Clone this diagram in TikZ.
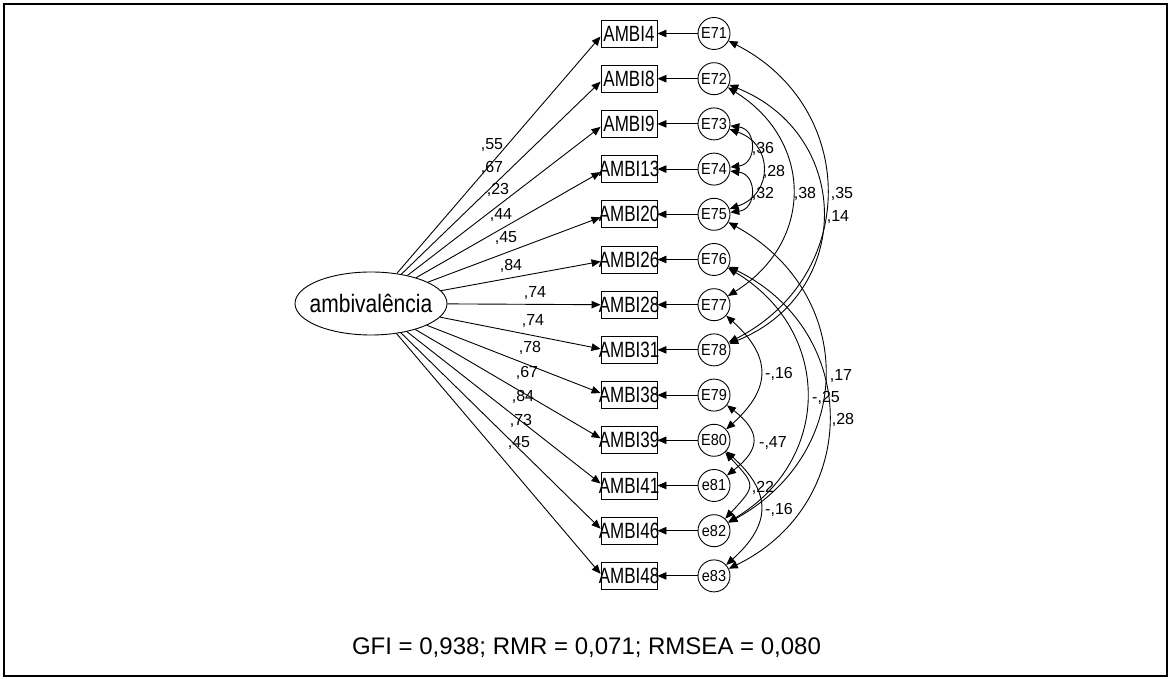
\documentclass[tikz,border=0pt]{standalone}
\usepackage{fontspec}
\setmainfont{Liberation Sans}
\usetikzlibrary{arrows.meta,shapes.geometric}
\newcommand\zb[1]{\makebox[0pt]{#1}}
\newcommand\tb[2]{\makebox[0pt]{\scalebox{1}[#1]{#2}}}
\begin{document}
\begin{tikzpicture}[x=1pt,y=1pt,
  line width=0.9pt,
  obs/.style={draw, rectangle, minimum width=56pt, minimum height=27pt, inner sep=0pt, font=\fontsize{17}{17}\selectfont},
  err/.style={draw, circle, minimum size=32pt, inner sep=0pt, font=\fontsize{14.5}{14.5}\selectfont},
  lat/.style={draw, ellipse, minimum width=152pt, minimum height=63pt, inner sep=0pt, font=\fontsize{21}{21}\selectfont},
  coef/.style={inner sep=0pt, font=\fontsize{16}{16}\selectfont},
  regarrow/.style={-{Triangle[length=9pt,width=7.5pt]}},
  cov/.style={{Triangle[length=9pt,width=7.5pt]}-{Triangle[length=9pt,width=7.5pt]}},
]
\fill[white] (0,0) rectangle (1170,679);
\useasboundingbox (0,0) rectangle (1170,679);
\draw[line width=2pt] (4,3) rectangle (1167,675);

% latent
\node[lat] (amb) at (371,375.5) {\tb{1.2}{ambivalência}};

% observed
\node[obs] (A4)  at (629,645.5) {\tb{1.3}{AMBI4}};
\node[obs] (A8)  at (629,600.3) {\tb{1.3}{AMBI8}};
\node[obs] (A9)  at (629,555.1) {\tb{1.3}{AMBI9}};
\node[obs] (A13) at (629,509.9) {\tb{1.3}{AMBI13}};
\node[obs] (A20) at (629,464.7) {\tb{1.3}{AMBI20}};
\node[obs] (A26) at (629,419.5) {\tb{1.3}{AMBI26}};
\node[obs] (A28) at (629,374.3) {\tb{1.3}{AMBI28}};
\node[obs] (A31) at (629,329.1) {\tb{1.3}{AMBI31}};
\node[obs] (A38) at (629,283.9) {\tb{1.3}{AMBI38}};
\node[obs] (A39) at (629,238.7) {\tb{1.3}{AMBI39}};
\node[obs] (A41) at (629,193.5) {\tb{1.3}{AMBI41}};
\node[obs] (A46) at (629,148.3) {\tb{1.3}{AMBI46}};
\node[obs] (A48) at (629,103.1) {\tb{1.3}{AMBI48}};

% errors
\node[err] (E71) at (714,645.5) {\tb{1.1}{E71}};
\node[err] (E72) at (714,600.3) {\tb{1.1}{E72}};
\node[err] (E73) at (714,555.1) {\tb{1.1}{E73}};
\node[err] (E74) at (714,509.9) {\tb{1.1}{E74}};
\node[err] (E75) at (714,464.7) {\tb{1.1}{E75}};
\node[err] (E76) at (714,419.5) {\tb{1.1}{E76}};
\node[err] (E77) at (714,374.3) {\tb{1.1}{E77}};
\node[err] (E78) at (714,329.1) {\tb{1.1}{E78}};
\node[err] (E79) at (714,283.9) {\tb{1.1}{E79}};
\node[err] (E80) at (714,238.7) {\tb{1.1}{E80}};
\node[err] (e81) at (714,193.5) {\tb{1.1}{e81}};
\node[err] (e82) at (714,148.3) {\tb{1.1}{e82}};
\node[err] (e83) at (714,103.1) {\tb{1.1}{e83}};

% error -> item
\foreach \e/\a in {E71/A4,E72/A8,E73/A9,E74/A13,E75/A20,E76/A26,E77/A28,E78/A31,E79/A38,E80/A39,e81/A41,e82/A46,e83/A48}
  \draw[regarrow] (\e) -- (\a);

% loadings
\foreach \a/\s in {A4/-3,A8/-3,A9/-3,A13/-3,A20/-3,A26/-2,A28/0,A31/1,A38/2,A39/2,A41/2,A46/2,A48/2}
  \draw[regarrow] (amb) -- ([yshift=\s pt]\a.west);

\node[coef] (l4)  at (492,534) {,55};
\node[coef] (l8)  at (492,511) {,67};
\node[coef] (l9)  at (498,489) {,23};
\node[coef] (l13) at (501,464) {,44};
\node[coef] (l20) at (506,441) {,45};
\node[coef] (l26) at (511,413) {,84};
\node[coef] (l28) at (535,386) {,74};
\node[coef] (l31) at (533,358) {,74};
\node[coef] (l38) at (530,331) {,78};
\node[coef] (l39) at (527,306) {,67};
\node[coef] (l41) at (523,282) {,84};
\node[coef] (l46) at (521,258) {,73};
\node[coef] (l48) at (519,236) {,45};

% covariances
\draw[cov] (E73) to[out=-7,in=7,distance=27pt] (E74);
\draw[cov] (E73) to[out=-19,in=19,distance=46.4pt] (E75);
\draw[cov] (E74) to[out=-7,in=7,distance=27pt] (E75);
\draw[cov] (E72) to[out=-32,in=32,distance=101.3pt] (E77);
\draw[cov] (E71) to[out=-27,in=27,distance=146.2pt] (E78);
\draw[cov] (E72) to[out=-22,in=22,distance=134pt] (E78);
\draw[cov] (E77) to[out=-42,in=42,distance=61.2pt] (E80);
\draw[cov] (E75) to[out=-29,in=29,distance=146.3pt] (e82);
\draw[cov] (E76) to[out=-31,in=31,distance=121.8pt] (e82);
\draw[cov] (E76) to[out=-26,in=26,distance=147.7pt] (e83);
\draw[cov] (E79) to[out=-38,in=38,distance=43pt] (e81);
\draw[cov] (E80) to[out=-47,in=47,distance=45.2pt] (e82);
\draw[cov] (E80) to[out=-42,in=42,distance=61.2pt] (e83);

\node[coef] (c1)  at (763,530) {,36};
\node[coef] (c2)  at (774,507) {,28};
\node[coef] (c3)  at (763,485) {,32};
\node[coef] (c4)  at (805,485) {,38};
\node[coef] (c5)  at (842,485) {,35};
\node[coef] (c6)  at (838,462) {,14};
\node[coef] (c7)  at (779,305) {-,16};
\node[coef] (c8)  at (841,303) {,17};
\node[coef] (c9)  at (826,281) {-,25};
\node[coef] (c10) at (843,259) {,28};
\node[coef] (c11) at (773,236) {-,47};
\node[coef] (c12) at (763,191) {,22};
\node[coef] (c13) at (779,169) {-,16};

\node[font=\fontsize{24}{24}\selectfont, inner sep=0pt] (fit) at (586.5,31) {GFI = 0,938; RMR = 0,071; RMSEA = 0,080};
\end{tikzpicture}
\end{document}
